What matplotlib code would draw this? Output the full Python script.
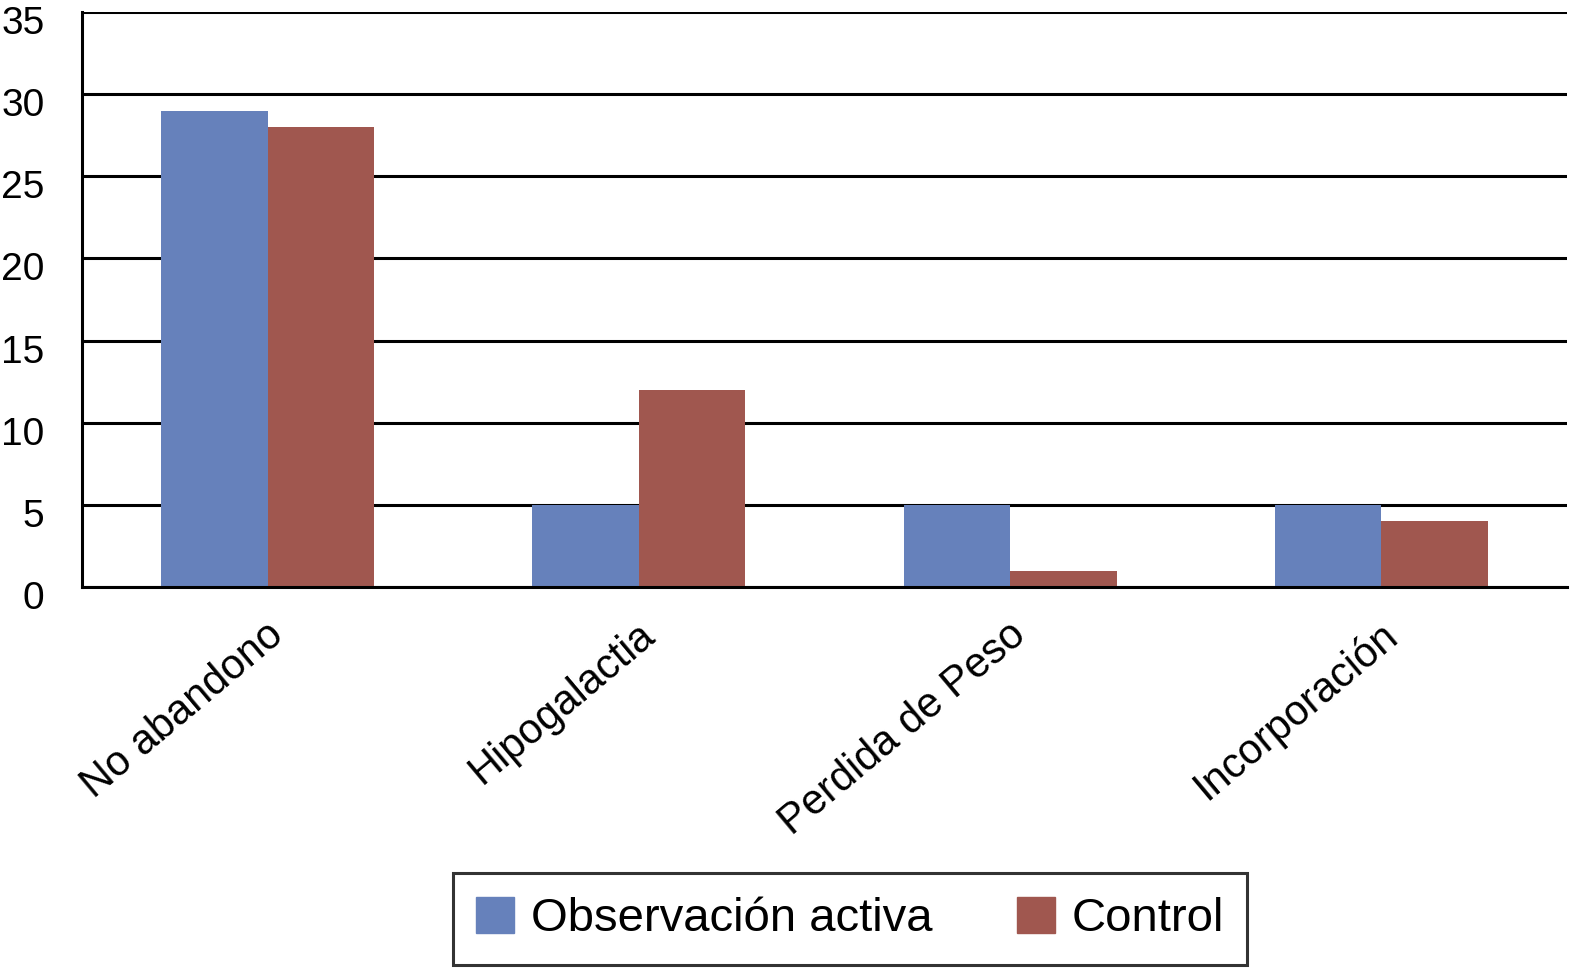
import matplotlib
matplotlib.use("Agg")
import matplotlib.pyplot as plt
import numpy as np
from matplotlib.transforms import ScaledTranslation
from matplotlib.patches import Patch

categories = ["No abandono", "Hipogalactia", "Perdida de Peso", "Incorporación"]
series_names = ["Observación activa", "Control"]
observacion = [29, 5, 5, 5]
control = [28, 12, 1, 4]
yticks = [0, 5, 10, 15, 20, 25, 30, 35]

plt.rcParams['font.family'] = ['Liberation Sans', 'DejaVu Sans']

fig = plt.figure(figsize=(15.81, 9.73), dpi=100)
ax = fig.add_axes([82/1581, 1-587/973, (1567-82)/1581, (587-12)/973])

x = np.arange(len(categories))
w = 0.287
c_blue = '#6681BB'
c_red = '#A0574F'
ax.bar(x - w/2, observacion, width=w, color=c_blue, zorder=2)
ax.bar(x + w/2, control, width=w, color=c_red, zorder=2)

ax.set_xlim(-0.5, len(categories) - 0.5)
ax.set_ylim(0, 35)
ax.set_yticks(yticks)
ax.set_yticklabels([str(t) for t in yticks], fontsize=28)
ax.yaxis.grid(True, color='black', linewidth=2.2, zorder=1)
ax.set_axisbelow(True)
ax.tick_params(axis='y', length=0, pad=27)
ax.tick_params(axis='x', length=0, pad=20)
for lbl in ax.get_yticklabels():
    lbl.set_transform(lbl.get_transform() + ScaledTranslation(0, -8/100, fig.dpi_scale_trans))

ax.set_xticks(x)
ax.set_xticklabels(categories, fontsize=30, rotation=40, ha='right', va='top', rotation_mode='anchor')
for lbl in ax.get_xticklabels():
    lbl.set_transform(lbl.get_transform() + ScaledTranslation(-2/100, 0, fig.dpi_scale_trans))

for s in ['top', 'right']:
    ax.spines[s].set_visible(False)
for s in ['left', 'bottom']:
    ax.spines[s].set_linewidth(2.2)
    ax.spines[s].set_color('black')

handles = [Patch(color=c_blue), Patch(color=c_red)]
leg = fig.legend(handles, series_names, loc='center', bbox_to_anchor=(850/1581, 1-919/973),
                 ncol=2, fontsize=34, frameon=True, fancybox=False, edgecolor='black',
                 handlelength=0.8, handleheight=0.8, handletextpad=0.35, columnspacing=1.8,
                 borderpad=0.5, borderaxespad=0)
leg.get_frame().set_linewidth(2.2)

fig.savefig("out.png", dpi=100)
